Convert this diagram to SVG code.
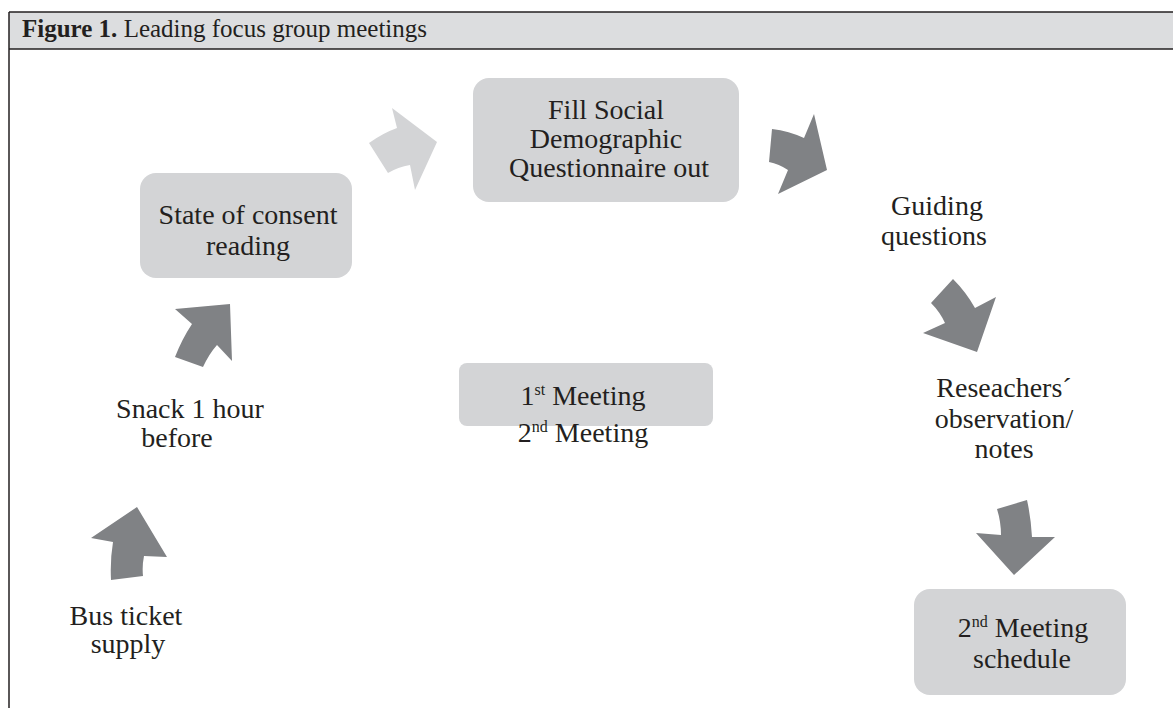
<svg xmlns="http://www.w3.org/2000/svg" width="1173" height="708" viewBox="0 0 1173 708">
<style>
text{font-family:"Liberation Serif","Times New Roman",serif;fill:#231f20;}
.t{font-size:28px;text-anchor:middle;}
.box{fill:#d3d4d6;}
.dark{fill:#808285;}
.light{fill:#d3d4d6;}
.sup{font-size:16px;}
</style>
<rect x="0" y="0" width="1173" height="708" fill="#ffffff"/>
<g id="frame">
<rect x="9" y="12" width="1164" height="37" fill="#dcdddf"/>
<line x1="9" y1="12" x2="1173" y2="12" stroke="#231f20" stroke-width="1.5"/>
<line x1="9" y1="49" x2="1173" y2="49" stroke="#231f20" stroke-width="1.5"/>
<line x1="9" y1="12" x2="9" y2="708" stroke="#231f20" stroke-width="1.5"/>
<text x="22" y="37" font-size="25"><tspan font-weight="bold">Figure 1.</tspan> Leading focus group meetings</text>
</g>
<g id="connectors">
<path class="dark" d="M137,507 L167,557 L144,556 Q142,566 143,576 L111,580 Q110,560 113,542 L91,538 Z"/>
<path class="dark" d="M175,309 L230,304 L232,361 L217,345 Q209,354 203,367 L175,357 Q182,339 192,324 Z"/>
<path class="light" d="M392,108 L437,142 L415,190 L410,165 Q398,167 388,173 L369,143 Q383,133 397,128 Z"/>
<path class="dark" d="M814,114 L827,170 L778,194 L788,170 Q779,164 769,162 L772,129 Q789,131 804,138 Z"/>
<path class="dark" d="M953,279 Q966,292 975,308 L996,297 L977,352 L923,333 L945,323 Q940,312 931,303 Z"/>
<path class="dark" d="M997,509 L1027,500 Q1031,518 1032,537 L1055,537 L1014,575 L976,533 L1001,535 Q1001,522 997,509 Z"/>
</g>
<g id="bus">
<text class="t" x="126" y="625">Bus ticket</text>
<text class="t" x="128" y="653">supply</text>
</g>
<g id="snack">
<text class="t" x="190" y="418">Snack 1 hour</text>
<text class="t" x="177" y="447">before</text>
</g>
<g id="consent">
<rect class="box" x="140" y="173" width="212" height="105" rx="16"/>
<text class="t" x="248" y="224">State of consent</text>
<text class="t" x="248" y="255">reading</text>
</g>
<g id="questionnaire">
<rect class="box" x="473" y="78" width="266" height="124" rx="16"/>
<text class="t" x="606" y="119">Fill Social</text>
<text class="t" x="606" y="148">Demographic</text>
<text class="t" x="609" y="177">Questionnaire out</text>
</g>
<g id="guiding">
<text class="t" x="937" y="215">Guiding</text>
<text class="t" x="934" y="245">questions</text>
</g>
<g id="researchers">
<text class="t" x="1004" y="397">Reseachers´</text>
<text class="t" x="1004" y="428">observation/</text>
<text class="t" x="1004" y="458">notes</text>
</g>
<g id="schedule">
<rect class="box" x="914" y="589" width="212" height="106" rx="16"/>
<text class="t" x="1023" y="637">2<tspan class="sup" dy="-10">nd</tspan><tspan dy="10"> Meeting</tspan></text>
<text class="t" x="1022" y="668">schedule</text>
</g>
<g id="meeting1">
<rect class="box" x="459" y="363" width="254" height="63" rx="8"/>
<text class="t" x="583" y="405">1<tspan class="sup" dy="-10">st</tspan><tspan dy="10"> Meeting</tspan></text>
</g>
<g id="meeting2">
<text class="t" x="583" y="442">2<tspan class="sup" dy="-10">nd</tspan><tspan dy="10"> Meeting</tspan></text>
</g>
</svg>
